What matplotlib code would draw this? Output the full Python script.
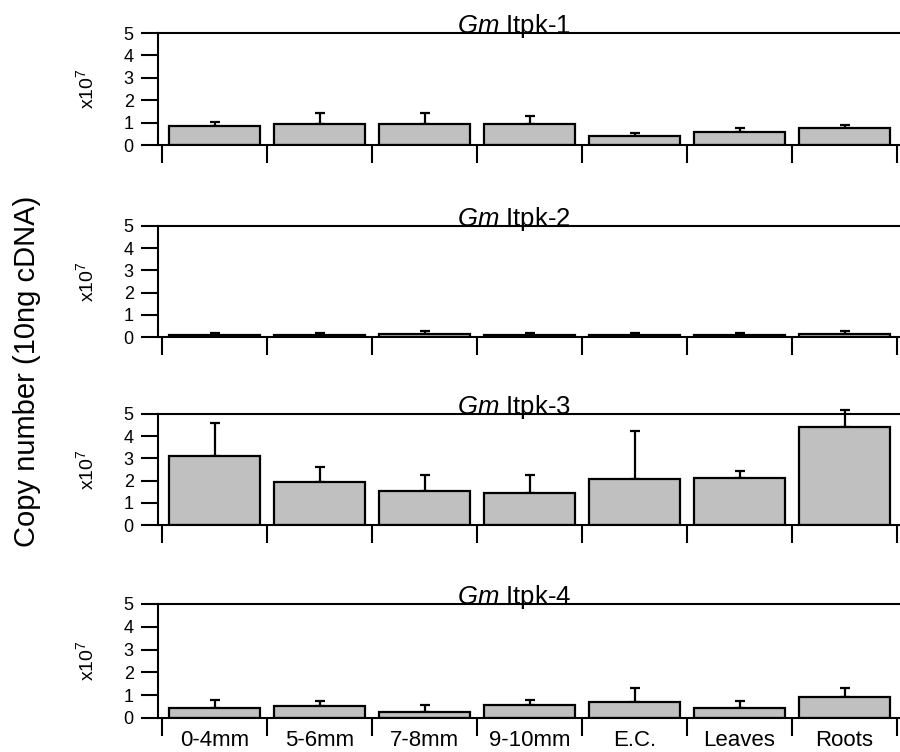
import matplotlib
matplotlib.use("Agg")
import matplotlib.pyplot as plt
import numpy as np

plt.rcParams['font.family'] = ['Liberation Sans', 'DejaVu Sans']
plt.rcParams['mathtext.fontset'] = 'custom'
plt.rcParams['mathtext.rm'] = 'Liberation Sans'
plt.rcParams['mathtext.it'] = 'Liberation Sans:italic'

categories = ["0-4mm", "5-6mm", "7-8mm", "9-10mm", "E.C.", "Leaves", "Roots"]
genes = ["Itpk-1", "Itpk-2", "Itpk-3", "Itpk-4"]

itpk1_mean = [0.85, 0.92, 0.92, 0.92, 0.40, 0.57, 0.76]
itpk1_err = [0.16, 0.49, 0.49, 0.39, 0.12, 0.19, 0.13]
itpk2_mean = [0.10, 0.10, 0.13, 0.10, 0.10, 0.10, 0.13]
itpk2_err = [0.10, 0.10, 0.13, 0.10, 0.08, 0.08, 0.13]
itpk3_mean = [3.09, 1.94, 1.53, 1.46, 2.06, 2.10, 4.40]
itpk3_err = [1.49, 0.69, 0.74, 0.81, 2.17, 0.35, 0.78]
itpk4_mean = [0.46, 0.54, 0.25, 0.55, 0.68, 0.46, 0.90]
itpk4_err = [0.34, 0.20, 0.33, 0.25, 0.63, 0.29, 0.41]

means = [itpk1_mean, itpk2_mean, itpk3_mean, itpk4_mean]
errs = [itpk1_err, itpk2_err, itpk3_err, itpk4_err]
yticks = [0, 1, 2, 3, 4, 5]

W, H = 900, 752
fig = plt.figure(figsize=(W / 100, H / 100), dpi=100)

# panel extents in pixels (top, bottom)
panels_px = [(33, 145), (226, 337), (414, 525), (604, 718)]
left_px, right_px = 158, 899

x = np.arange(len(categories))
for i, (top, bot) in enumerate(panels_px):
    ax = fig.add_axes([left_px / W, 1 - bot / H, (right_px - left_px) / W, (bot - top) / H])
    m = np.array(means[i])
    e = np.array(errs[i])
    ax.bar(x, m, width=0.87, color='#c0c0c0', edgecolor='black', linewidth=1.6, zorder=2)
    ax.errorbar(x, m, yerr=[np.zeros_like(e), e], fmt='none', ecolor='black',
                elinewidth=1.6, capsize=3.8, capthick=1.6, zorder=1, clip_on=False)
    ax.set_xlim(-0.5 - 4 / 105, 6.5 + 2 / 105)
    ax.set_ylim(0, 5)
    ax.set_yticks(yticks)
    ax.set_yticklabels([str(v) for v in yticks], fontsize=13)
    ax.tick_params(axis='y', direction='out', length=12.5, width=1.5, pad=5)
    ax.set_xticks(x)
    ax.set_xticks(np.arange(-0.5, 7, 1.0), minor=True)
    ax.tick_params(axis='x', which='minor', direction='out', length=13, width=1.5)
    ax.tick_params(axis='x', which='major', length=0, pad=9)
    if i == 3:
        ax.set_xticklabels(categories, fontsize=16)
    else:
        ax.set_xticklabels([])
    ax.spines['right'].set_visible(False)
    for s in ['left', 'top', 'bottom']:
        ax.spines[s].set_linewidth(1.5)
    ax.text(0.48, 1.0, r'$\mathit{Gm}$ ' + genes[i], transform=ax.transAxes,
            ha='center', va='baseline', fontsize=18.5)
    fig.text(86 / W, 1 - ((top + bot) / 2) / H, r'x10$^{7}$', rotation=90,
             ha='center', va='center', fontsize=14)

fig.text(27 / W, 1 - 371 / H, 'Copy number (10ng cDNA)', rotation=90,
         ha='center', va='center', fontsize=21)

fig.savefig('out.png', dpi=100)
